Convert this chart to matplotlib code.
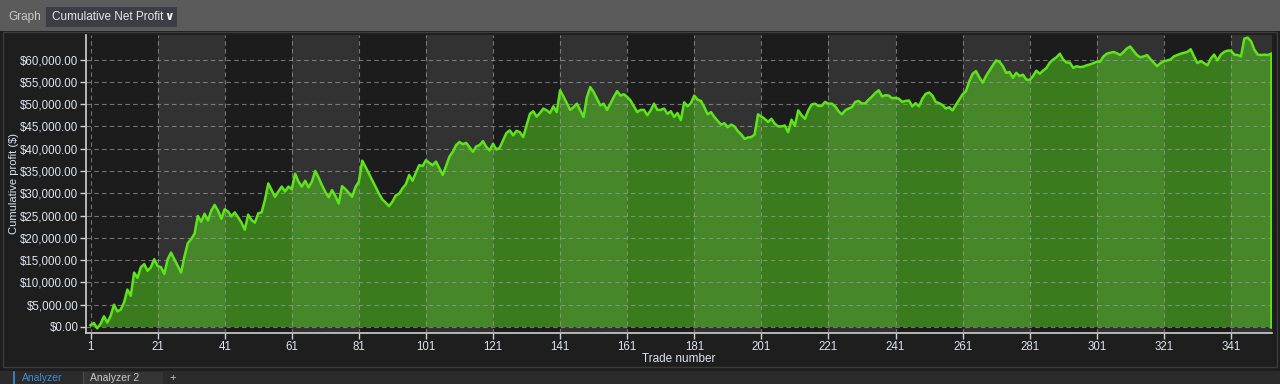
import matplotlib
matplotlib.use("Agg")
import matplotlib.pyplot as plt
import matplotlib.patches as mpatches
import numpy as np
from matplotlib.ticker import FuncFormatter, FixedLocator

# ---- data (cumulative profit in thousands of $) ----
profit_k = [
    0.4, 0.9, -0.3, 0.7, 2.4, 1.0, 2.5, 5.0, 3.5, 3.9,
    5.5, 8.4, 7.0, 12.2, 11.0, 13.4, 14.1, 12.6, 13.4, 15.2,
    13.7, 13.4, 11.9, 15.2, 16.7, 15.2, 13.7, 12.2, 15.8, 18.8,
    19.7, 20.9, 24.9, 23.6, 25.4, 23.9, 26.1, 27.4, 26.1, 24.3,
    26.4, 25.9, 24.8, 25.7, 24.6, 23.4, 21.8, 25.2, 24.0, 23.4,
    25.5, 25.7, 28.5, 32.2, 30.7, 29.2, 30.4, 31.5, 30.4, 31.5,
    30.9, 34.4, 32.6, 31.5, 32.8, 31.3, 32.6, 35.0, 33.5, 31.8,
    30.3, 29.1, 30.7, 29.4, 27.7, 31.6, 30.9, 30.1, 29.2, 31.4,
    32.6, 37.3, 35.9, 34.4, 32.9, 31.4, 29.9, 28.6, 27.9, 27.1,
    28.1, 29.5, 29.9, 31.1, 32.0, 34.1, 32.8, 34.6, 36.3, 36.1,
    37.4, 36.8, 36.3, 37.1, 35.6, 34.1, 36.1, 38.2, 39.3, 40.8,
    41.5, 41.0, 41.3, 40.3, 39.3, 40.5, 40.8, 41.7, 40.4, 39.6,
    41.1, 39.8, 40.2, 41.9, 43.5, 44.1, 43.0, 44.0, 43.7, 42.6,
    45.2, 47.8, 48.4, 47.2, 48.0, 49.0, 48.6, 48.0, 49.5, 48.2,
    53.1, 51.7, 50.2, 48.7, 49.3, 50.1, 48.6, 47.1, 51.6, 53.8,
    52.7, 51.2, 49.7, 50.1, 48.7, 50.1, 51.6, 52.9, 51.9, 52.2,
    51.6, 50.8, 49.5, 48.2, 48.7, 48.7, 47.5, 48.6, 50.1, 48.7,
    48.7, 49.0, 47.8, 48.4, 47.1, 48.0, 46.4, 50.4, 49.5, 50.2,
    51.9, 51.0, 50.7, 49.3, 47.7, 48.2, 47.1, 46.2, 45.4, 45.7,
    44.8, 45.4, 45.0, 43.9, 43.2, 42.2, 42.5, 42.6, 43.2, 47.7,
    47.2, 46.7, 46.0, 46.7, 45.6, 45.0, 45.0, 45.2, 43.7, 46.5,
    45.1, 48.6, 47.5, 46.7, 48.6, 49.9, 50.1, 49.6, 49.6, 50.5,
    50.1, 50.1, 49.5, 48.4, 47.7, 48.6, 49.0, 49.3, 50.5, 50.7,
    50.1, 50.2, 51.0, 51.7, 52.5, 53.1, 51.7, 52.0, 51.9, 51.3,
    51.4, 51.2, 50.5, 50.7, 50.8, 49.5, 50.2, 49.5, 51.2, 52.3,
    52.6, 51.9, 50.5, 50.2, 49.8, 49.0, 49.3, 48.6, 49.8, 51.0,
    52.2, 52.9, 55.1, 56.8, 57.4, 56.0, 54.8, 56.3, 57.5, 58.7,
    59.8, 59.5, 58.5, 57.0, 57.2, 55.9, 57.0, 56.3, 56.6, 55.5,
    55.4, 56.3, 57.5, 56.8, 57.5, 58.1, 59.3, 60.0, 60.5, 61.3,
    60.0, 59.3, 59.3, 58.1, 58.5, 58.3, 58.4, 58.7, 58.9, 59.2,
    59.5, 59.5, 60.7, 61.3, 61.5, 61.7, 61.4, 61.0, 61.7, 62.5,
    62.9, 61.9, 61.0, 60.5, 60.7, 61.0, 60.1, 59.3, 58.5, 59.2,
    59.6, 59.8, 60.0, 60.7, 61.0, 61.3, 61.5, 61.7, 62.3, 60.7,
    59.2, 59.6, 59.2, 58.7, 60.2, 61.1, 59.8, 61.1, 61.7, 62.0,
    62.0, 61.1, 61.0, 60.7, 64.7, 64.9, 64.1, 62.2, 61.1, 61.0,
    61.1, 61.0, 61.3,
]
x_ticks = [1, 21, 41, 61, 81, 101, 121, 141, 161, 181, 201, 221, 241, 261, 281, 301, 321, 341]
y_ticks = [0, 5000, 10000, 15000, 20000, 25000, 30000, 35000, 40000, 45000, 50000, 55000, 60000]

profit = np.array(profit_k) * 1000.0
trades = np.arange(1, len(profit) + 1)

W, H = 1280, 384
fig = plt.figure(figsize=(W / 100, H / 100), dpi=100)
fig.patch.set_facecolor("#1e1e1e")

def fx(px):
    return px / W

def fy(py):
    return 1 - py / H

# header bar
fig.patches.append(mpatches.Rectangle((0, fy(31)), 1, 31 / H, transform=fig.transFigure,
                                      facecolor="#5b5b5b", edgecolor="none", zorder=-2))
fig.patches.append(mpatches.Rectangle((fx(46), fy(27)), 131 / W, 20 / H, transform=fig.transFigure,
                                      facecolor="#3d3d45", edgecolor="none", zorder=-1))
fig.text(fx(8), fy(17), "Graph", color="#c8c8c8", fontsize=8.5, va="center", ha="left",
         family="Liberation Sans")
fig.text(fx(52), fy(17), "Cumulative Net Profit", color="#e6e6e6", fontsize=8.5, va="center",
         ha="left", family="Liberation Sans")
fig.text(fx(169), fy(16), "\u2228", color="#f0f0f0", fontsize=8.5, va="center", ha="center",
         fontweight="bold", family="DejaVu Sans")
# chart panel border
fig.patches.append(mpatches.Rectangle((fx(3), fy(367)), 1274 / W, 335 / H, transform=fig.transFigure,
                                      facecolor="#1e1e1e", edgecolor="#3c3c3c", lw=1, zorder=-2))
# bottom tab strip
fig.patches.append(mpatches.Rectangle((0, 0), 1, 13 / H, transform=fig.transFigure,
                                      facecolor="#2b2b2b", edgecolor="none", zorder=-2))
fig.patches.append(mpatches.Rectangle((fx(84), 0), 79 / W, 12 / H, transform=fig.transFigure,
                                      facecolor="#353535", edgecolor="none", zorder=-1))
fig.lines.append(plt.Line2D([fx(14), fx(14)], [0, fy(372)], transform=fig.transFigure,
                            color="#3d8fd6", lw=1.2))
fig.lines.append(plt.Line2D([fx(83), fx(83)], [0, fy(372)], transform=fig.transFigure,
                            color="#4a4a4a", lw=1))
fig.text(fx(22), fy(378), "Analyzer", color="#3d8fd6", fontsize=7.5, va="center", ha="left",
         family="Liberation Sans")
fig.text(fx(90), fy(378), "Analyzer 2", color="#c8c8c8", fontsize=7.5, va="center", ha="left",
         family="Liberation Sans")
fig.text(fx(173), fy(378), "+", color="#c8c8c8", fontsize=8, va="center", ha="center",
         family="Liberation Sans")

# main axes
left, right, top, bottom = 86, 1272, 35, 333
ax = fig.add_axes([fx(left), fy(bottom), (right - left) / W, (bottom - top) / H])
ax.set_zorder(5)
ax.set_facecolor("#1c1c1c")
xmin, xmax = -0.35, len(profit) + 0.25
ax.set_xlim(xmin, xmax)
ax.set_ylim(-1350, 65500)

# alternating bands
for i, start in enumerate(x_ticks):
    end = x_ticks[i + 1] if i + 1 < len(x_ticks) else xmax
    if i % 2 == 1:
        ax.axvspan(start, end, color="#323232", zorder=0, lw=0)

ax.fill_between(trades, profit, 0, where=profit >= 0, interpolate=True,
                color="#5ff020", alpha=0.45, lw=0, zorder=2)
ax.fill_between(trades, profit, 0, where=profit < 0, interpolate=True,
                color="#e02020", alpha=0.9, lw=0, zorder=2)
ax.plot(trades, profit, color="#5fe41c", lw=1.8, zorder=4, solid_joinstyle="round")
ax.plot([trades[-1], trades[-1]], [0, profit[-1]], color="#5fe41c", lw=1.8, zorder=4)

ax.xaxis.set_major_locator(FixedLocator(x_ticks))
ax.yaxis.set_major_locator(FixedLocator(y_ticks))
ax.yaxis.set_major_formatter(FuncFormatter(lambda v, p: "${:,.2f}".format(v)))
ax.grid(True, color="#9a9a9a", linestyle=(0, (4, 3)), lw=0.8, alpha=0.7, zorder=3)
ax.set_axisbelow(False)

for s in ["top", "right"]:
    ax.spines[s].set_visible(False)
for s in ["left", "bottom"]:
    ax.spines[s].set_color("#d0d0d0")
    ax.spines[s].set_linewidth(1.2)
ax.tick_params(axis="both", colors="#d0d0d0", length=4, width=1, labelsize=8.3,
               labelcolor="#dde4ee")
ax.tick_params(axis="y", pad=1.5)
ax.tick_params(axis="x", pad=2)
for lab in ax.get_xticklabels() + ax.get_yticklabels():
    lab.set_family("Liberation Sans")
ax.set_xlabel("Trade number", color="#dde4ee", fontsize=8.5, labelpad=0, family="Liberation Sans")
ax.set_ylabel("Cumulative profit ($)", color="#dde4ee", fontsize=8, family="Liberation Sans")
ax.yaxis.set_label_coords((19 - left) / (right - left), 0.5)

fig.savefig("out.png", dpi=100, facecolor=fig.get_facecolor())
